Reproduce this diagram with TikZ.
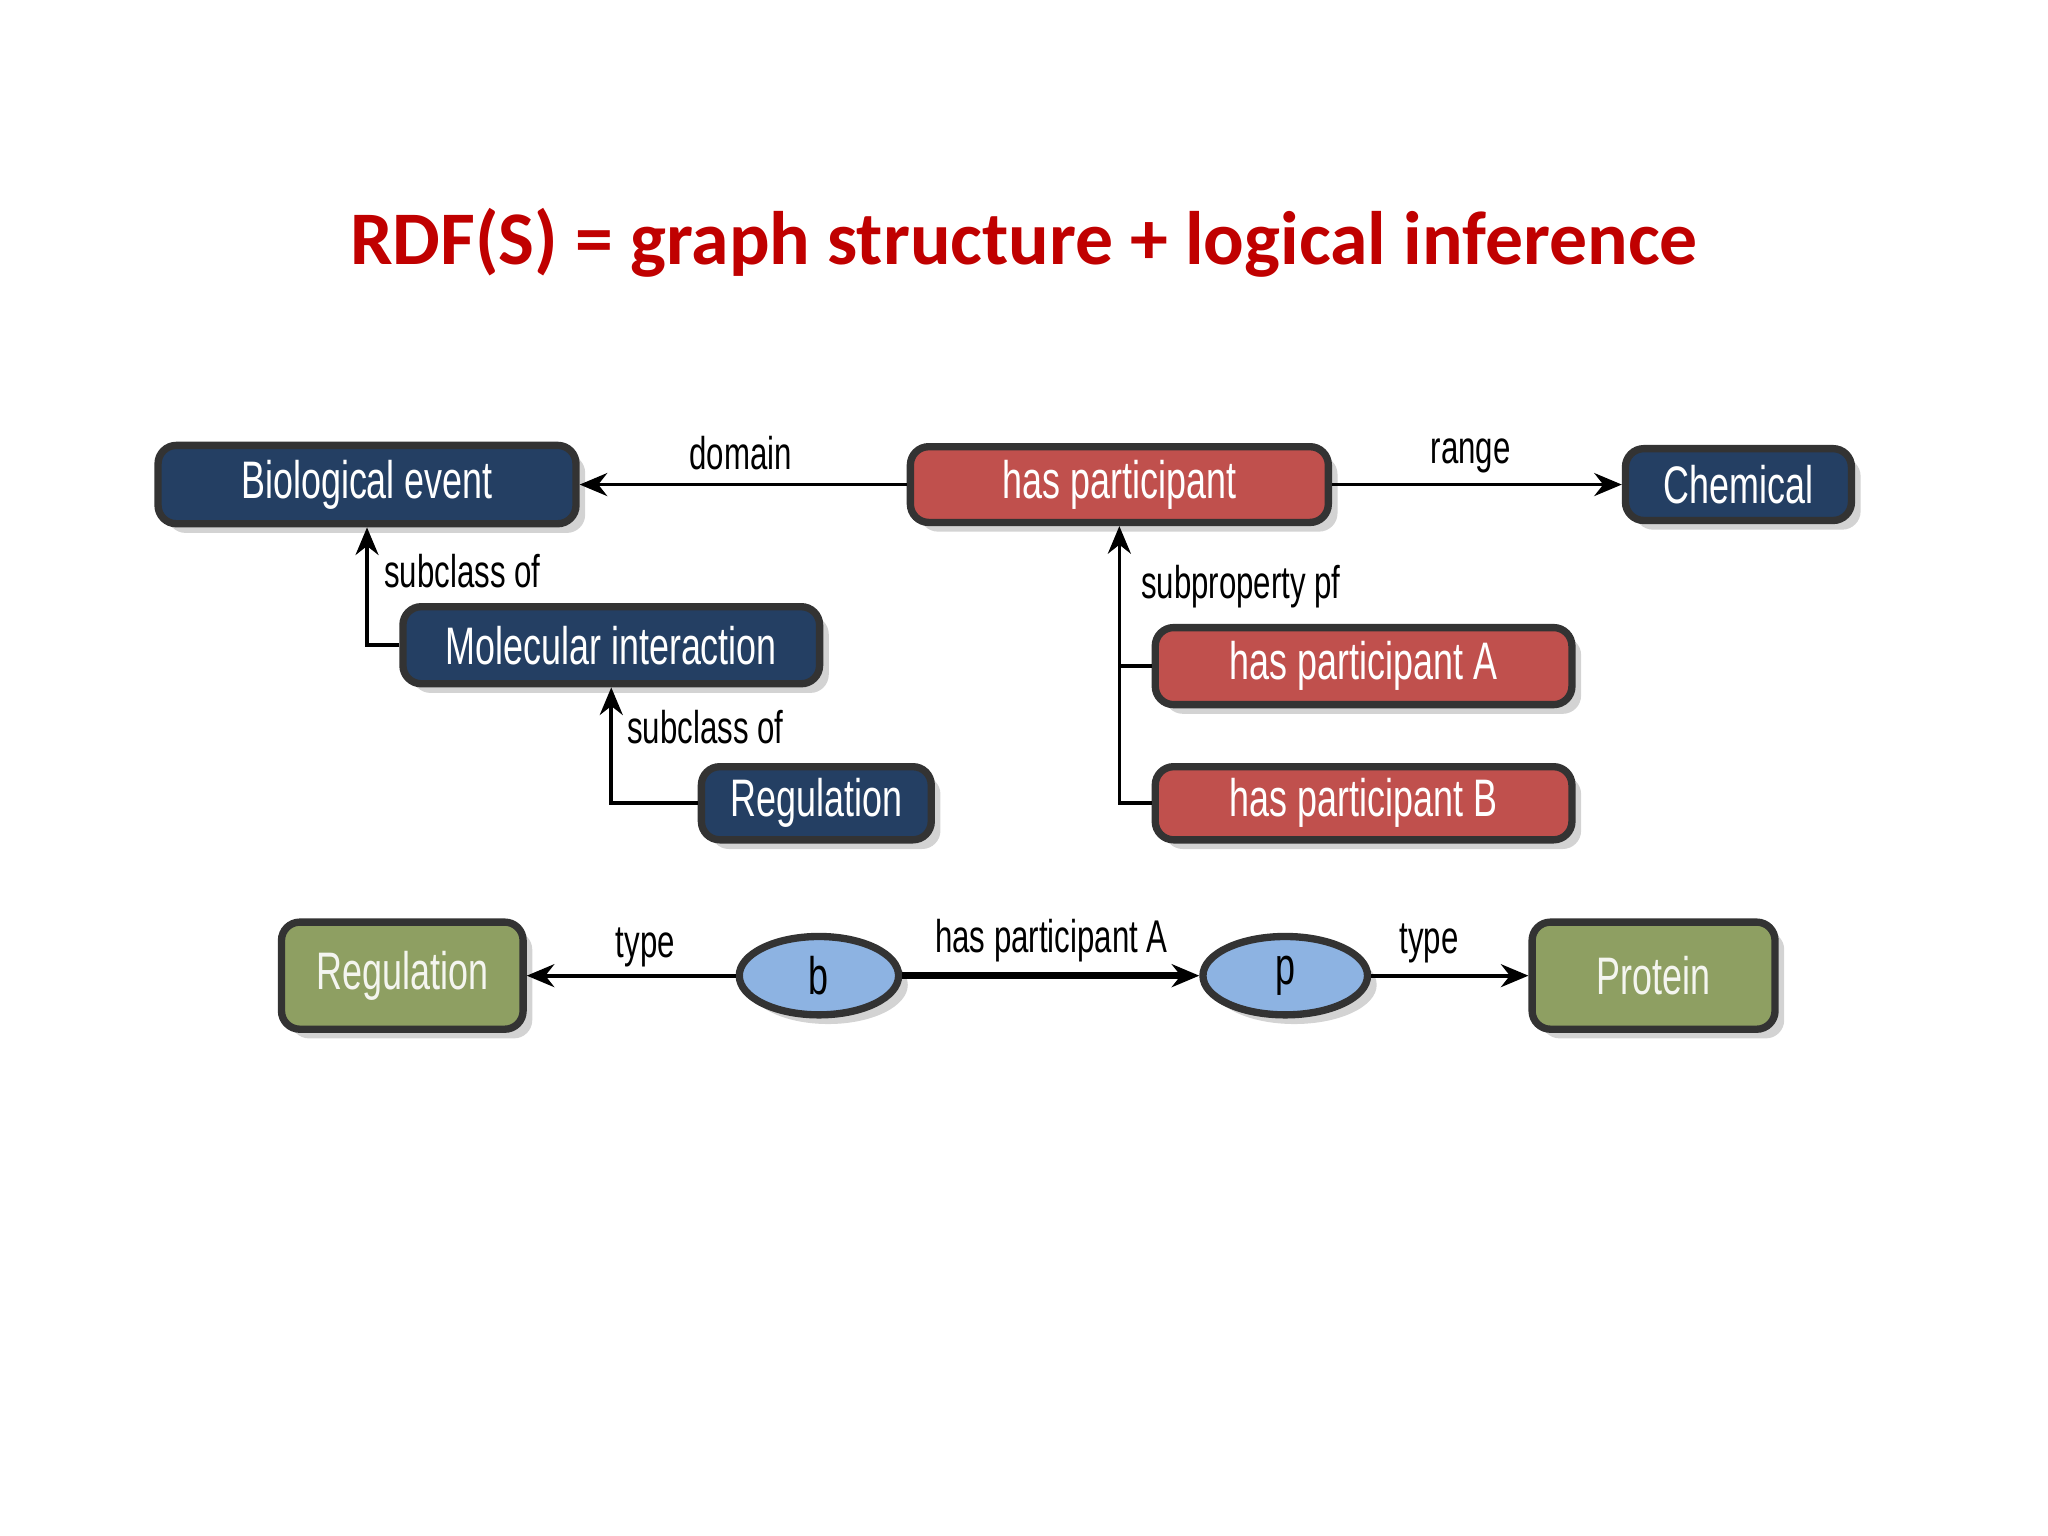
\documentclass[tikz,border=0pt]{standalone}
\usepackage{fontspec}
\setmainfont{Liberation Sans}
\newfontfamily\cond{Liberation Sans}[FakeStretch=0.68]
\newfontfamily\ttl{Carlito}
\usetikzlibrary{shapes.geometric,shadows,arrows.meta}
\definecolor{dblue}{HTML}{243F63}
\definecolor{dred}{HTML}{C0504D}
\definecolor{dgreen}{HTML}{8E9F62}
\definecolor{lblue}{HTML}{8DB3E2}
\definecolor{ttlred}{HTML}{C00000}
\begin{document}
\begin{tikzpicture}[x=1cm,y=1cm,
 box/.style={draw=black!80,line width=1.6pt,rounded corners=4pt,text=white,font=\cond\fontsize{11.5}{11.5}\selectfont,drop shadow={opacity=0.35,shadow xshift=2pt,shadow yshift=-2pt},inner sep=0pt},
 bl/.style={box,fill=dblue},
 rd/.style={box,fill=dred},
 gr/.style={box,fill=dgreen,text=white!90!dgreen},
 el/.style={ellipse,draw=black!80,line width=1.6pt,fill=lblue,minimum width=1.22cm,minimum height=0.6cm,inner sep=0pt,font=\cond\fontsize{11.5}{11.5}\selectfont,drop shadow={opacity=0.35,shadow xshift=2pt,shadow yshift=-2pt}},
 lab/.style={font=\cond\fontsize{10}{10}\selectfont},
 ar/.style={-{Stealth[length=6pt,width=5pt]},line width=0.8pt}]
\useasboundingbox (0,0) rectangle (15.68,-11.76);
\node[font=\ttl\bfseries\fontsize{16.5}{16.5}\selectfont,text=ttlred] (t) at (7.84,-1.86) {RDF(S) = graph structure + logical inference};
\node[bl,minimum width=3.2cm,minimum height=0.6cm] (be) at (2.81,-3.71) {Biological event};
\node[rd,minimum width=3.2cm,minimum height=0.58cm] (hp) at (8.57,-3.71) {has participant};
\node[bl,minimum width=1.73cm,minimum height=0.55cm] (ch) at (13.31,-3.71) {Chemical};
\node[bl,minimum width=3.19cm,minimum height=0.59cm] (mi) at (4.68,-4.94) {Molecular interaction};
\node[bl,minimum width=1.76cm,minimum height=0.56cm] (rg) at (6.25,-6.15) {Regulation};
\node[rd,minimum width=3.19cm,minimum height=0.59cm] (ha) at (10.44,-5.10) {has participant A};
\node[rd,minimum width=3.19cm,minimum height=0.56cm] (hb) at (10.44,-6.15) {has participant B};
\node[gr,minimum width=1.85cm,minimum height=0.82cm] (rg2) at (3.08,-7.47) {Regulation};
\node[el] (b) at (6.27,-7.47) {b};
\node[el,minimum width=1.26cm] (p) at (9.84,-7.47) {p};
\node[gr,minimum width=1.86cm,minimum height=0.82cm] (pr) at (12.66,-7.47) {Protein};
\draw[ar] (hp) -- (be);
\node[lab] (l1) at (5.67,-3.47) {domain};
\draw[ar] (hp) -- (ch);
\node[lab] (l2) at (11.26,-3.49) {range};
\draw[ar] (mi.west) -| (be.south);
\node[lab] (l3) at (3.54,-4.37) {subclass of};
\draw[ar] (rg.west) -| (mi.south);
\node[lab] (l4) at (5.40,-5.57) {subclass of};
\coordinate (j) at (8.57,-6.15);
\draw[line width=0.8pt] (ha.west) -- (8.57,-5.10);
\draw[ar] (hb.west) -- (j) -- (hp.south);
\node[lab] (l5) at (9.50,-4.49) {subproperty pf};
\draw[ar] (b) -- (rg2);
\node[lab] (l6) at (4.94,-7.25) {type};
\draw[ar,line width=1.6pt] (b) -- (p);
\node[lab] (l7) at (8.05,-7.20) {has participant A};
\draw[ar] (p) -- (pr);
\node[lab] (l8) at (10.94,-7.22) {type};
\end{tikzpicture}
\end{document}
